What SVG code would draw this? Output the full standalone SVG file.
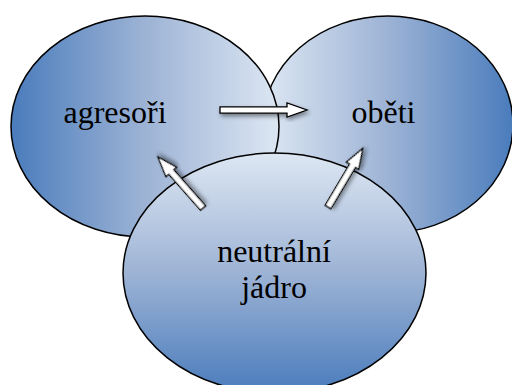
<svg xmlns="http://www.w3.org/2000/svg" width="512" height="385" viewBox="0 0 512 385">
  <style>
    .node { stroke: #000; stroke-width: 1.5; }
    .label { font-family: 'Liberation Serif', 'Times New Roman', serif; font-size: 32px; fill: #000; text-anchor: middle; }
    .arrow { fill: #fff; stroke: #000; stroke-width: 1.3; stroke-linejoin: miter; filter: url(#shadow); }
  </style>
  <defs>
    <linearGradient id="gLeft" x1="0" y1="0" x2="1" y2="0">
      <stop offset="0" stop-color="#4a7cbc"/>
      <stop offset="0.5" stop-color="#9db3d5"/>
      <stop offset="1" stop-color="#dde7f3"/>
    </linearGradient>
    <linearGradient id="gRight" x1="0" y1="0" x2="1" y2="0">
      <stop offset="0" stop-color="#dde7f3"/>
      <stop offset="0.5" stop-color="#9db3d5"/>
      <stop offset="1" stop-color="#4a7cbc"/>
    </linearGradient>
    <linearGradient id="gBottom" x1="0" y1="0" x2="0" y2="1">
      <stop offset="0" stop-color="#dde7f3"/>
      <stop offset="0.5" stop-color="#9db3d5"/>
      <stop offset="1" stop-color="#4a7cbc"/>
    </linearGradient>
    <filter id="shadow" x="-30%" y="-30%" width="160%" height="160%">
      <feDropShadow dx="1.5" dy="2.5" stdDeviation="2" flood-color="#000" flood-opacity="0.45"/>
    </filter>
  </defs>

  <g id="obeti">
    <ellipse class="node" cx="388" cy="124.5" rx="125" ry="108.5" fill="url(#gRight)"/>
  </g>
  <g id="agresori">
    <ellipse class="node" cx="145" cy="126.5" rx="134" ry="110.5" fill="url(#gLeft)"/>
  </g>
  <g id="neutralni-jadro">
    <ellipse class="node" cx="274.5" cy="273" rx="151.5" ry="120" fill="url(#gBottom)"/>
  </g>

  <g id="labels" font-family="Liberation Serif, Times New Roman, serif">
    <text class="label" x="115" y="123">agresoři</text>
    <text class="label" x="383.5" y="123">oběti</text>
    <text class="label" x="274" y="262">neutrální</text>
    <text class="label" x="274" y="298">jádro</text>
  </g>

  <g id="connectors">
    <path class="arrow" d="M220,106.8 H287 V102.8 L307,110 L287,117.2 V113.2 H220 Z"/>
    <path class="arrow" transform="translate(203,208) rotate(-131.4)" d="M0,-3.3 H48 V-7 L68,0 L48,7 V3.3 H0 Z"/>
    <path class="arrow" transform="translate(328,207) rotate(-59.3)" d="M0,-3.3 H48 V-7 L68,0 L48,7 V3.3 H0 Z"/>
  </g>
</svg>
